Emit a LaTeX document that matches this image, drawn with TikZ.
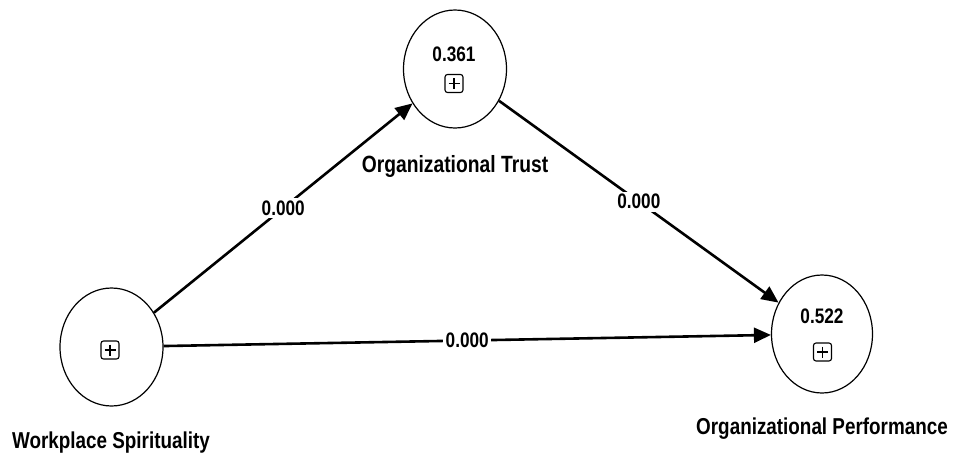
\documentclass[tikz,border=0pt]{standalone}
\usepackage{fontspec}
\setmainfont{Liberation Sans}[FakeStretch=0.82]
\usetikzlibrary{shapes.geometric,arrows.meta}
\tikzset{
  construct/.style={ellipse, draw, line width=1.2pt, inner sep=0pt, minimum width=103pt, minimum height=118pt},
  lbl/.style={font=\fontsize{23}{26}\selectfont\bfseries, inner sep=0pt, anchor=base},
  val/.style={font=\fontsize{21}{24}\selectfont\bfseries, inner sep=0pt, anchor=base},
  coef/.style={font=\fontsize{21}{24}\selectfont\bfseries, fill=white, inner sep=2.5pt},
  path/.style={line width=2.6pt, -{Triangle[length=17pt,width=15pt]}},
  plusbox/.style={draw, line width=1.1pt, rounded corners=2.5pt, minimum size=18pt, inner sep=0pt,
    path picture={\draw[line width=1.1pt] ([xshift=3.5pt]path picture bounding box.west) -- ([xshift=-3.5pt]path picture bounding box.east);
                  \draw[line width=1.1pt] ([yshift=-3.5pt]path picture bounding box.north) -- ([yshift=3.5pt]path picture bounding box.south);}}
}
\begin{document}
\begin{tikzpicture}[x=1pt,y=-1pt]
\useasboundingbox[fill=white] (0,0) rectangle (954,453);
\node[construct] (ot) at (455,69) {};
\node[construct] (ws) at (111.5,347) {};
\node[construct, minimum width=101pt] (op) at (822,334) {};
\node[val] (otv) at (454,61) {0.361};
\node[val] (opv) at (822,323.5) {0.522};
\node[plusbox] (otp) at (454,83.5) {};
\node[plusbox] (wsp) at (110,350) {};
\node[plusbox] (opp) at (822.5,352) {};
\node[lbl, font=\fontsize{23.5}{26}\selectfont\bfseries] (otl) at (455,172) {Organizational Trust};
\node[lbl] (wsl) at (111,448) {Workplace Spirituality};
\node[lbl] (opl) at (822,434) {Organizational Performance};
\draw[path] (ws) -- node[coef] {0.000} (ot);
\draw[path] (ot) -- node[coef] {0.000} (op);
\draw[path] (ws) -- node[coef] {0.000} (op);
\end{tikzpicture}
\end{document}
